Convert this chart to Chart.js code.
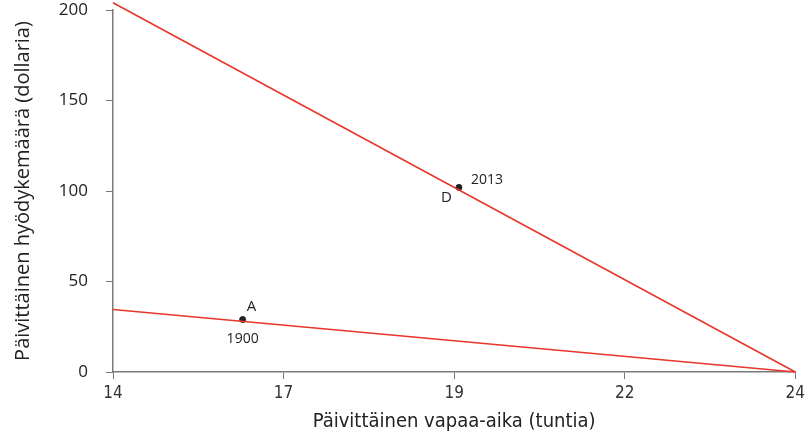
<!DOCTYPE html>
<html>
<head>
<meta charset="utf-8">
<script src="https://cdn.jsdelivr.net/npm/chart.js@4"></script>
<style>
  html, body { margin: 0; padding: 0; background: #fff; }
  #wrap { width: 809px; height: 437px; }
</style>
</head>
<body>
<div id="wrap"><canvas id="budgetChart"></canvas></div>
<script>
// budget lines: consumption vs free time
const xEnds = [14, 24];
const line1900 = [34.5, 0];
const line2013 = [204, 0];

// chosen points
const pointNames = ['A', 'D'];
const pointYears = ['1900', '2013'];
const pointX = [15.9, 19.07];
const pointY = [29, 102];

// axis ticks (the x ticks are labelled with rounded values)
const xTickValues = [14, 16.5, 19, 21.5, 24];
const xTickLabels = ['14', '17', '19', '22', '24'];
const yTickValues = [0, 50, 100, 150, 200];

const red = '#e8352a';
const axisGrey = '#7a7a7a';

function toXY(xs, ys) {
  return xs.map((x, i) => ({ x: x, y: ys[i] }));
}

// writes the A / 1900 and D / 2013 labels next to the points
const pointLabels = {
  id: 'pointLabels',
  afterDatasetsDraw(chart) {
    const ctx = chart.ctx;
    const xs = chart.scales.x, ys = chart.scales.y;
    ctx.save();
    ctx.fillStyle = '#222';
    ctx.textBaseline = 'middle';
    pointX.forEach((v, i) => {
      const px = xs.getPixelForValue(v);
      const py = ys.getPixelForValue(pointY[i]);
      if (pointNames[i] == 'A') {
        ctx.font = '15px "Open Sans"';
        ctx.textAlign = 'left';
        ctx.fillText(pointNames[i], px + 4, py - 13);
        ctx.font = '14px "Open Sans"';
        ctx.textAlign = 'center';
        ctx.fillText(pointYears[i], px, py + 20);
      } else {
        ctx.font = '15px "Open Sans"';
        ctx.textAlign = 'right';
        ctx.fillText(pointNames[i], px - 7, py + 10);
        ctx.font = '14px "Open Sans"';
        ctx.textAlign = 'left';
        ctx.fillText(pointYears[i], px + 12, py - 7);
      }
    });
    ctx.restore();
  }
};

const chart = new Chart(document.getElementById('budgetChart').getContext('2d'), {
  type: 'scatter',
  data: {
    datasets: [
      {
        label: '1900',
        data: toXY(xEnds, line1900),
        showLine: true,
        clip: false,
        borderColor: red,
        borderWidth: 1.5,
        pointRadius: 0
      },
      {
        label: '2013',
        data: toXY(xEnds, line2013),
        showLine: true,
        clip: false,
        borderColor: red,
        borderWidth: 1.5,
        pointRadius: 0
      },
      {
        label: 'points',
        data: toXY(pointX, pointY),
        showLine: false,
        backgroundColor: '#222',
        borderColor: '#222',
        pointRadius: 3
      }
    ]
  },
  options: {
    responsive: true,
    maintainAspectRatio: false,
    animation: false,
    layout: { padding: { top: 10, right: 12, left: 0, bottom: 0 } },
    plugins: {
      legend: { display: false },
      tooltip: { enabled: false }
    },
    scales: {
      x: {
        type: 'linear',
        min: 14,
        max: 24,
        afterBuildTicks: (scale) => {
          scale.ticks = xTickValues.map(v => ({ value: v }));
        },
        afterFit: (scale) => { scale.height = 65; },
        grid: { drawOnChartArea: false, drawTicks: true, tickLength: 7, color: axisGrey },
        border: { display: true, color: axisGrey, width: 1.5 },
        ticks: {
          padding: 4,
          color: '#333',
          font: { family: '"DejaVu Sans Condensed", sans-serif', size: 17 },
          callback: (v) => {
            const i = xTickValues.indexOf(v);
            return i >= 0 ? xTickLabels[i] : '';
          }
        },
        title: {
          display: true,
          text: 'Päivittäinen vapaa-aika (tuntia)',
          color: '#222',
          padding: { top: 0, bottom: 3 },
          font: { family: '"DejaVu Sans Condensed", sans-serif', size: 20 }
        }
      },
      y: {
        type: 'linear',
        min: 0,
        max: 200,
        afterBuildTicks: (scale) => {
          scale.ticks = yTickValues.map(v => ({ value: v }));
        },
        afterFit: (scale) => {
          scale.width = 113;
          scale.paddingTop = 0;
          scale.paddingBottom = 0;
        },
        grid: { drawOnChartArea: false, drawTicks: true, tickLength: 7, color: axisGrey },
        border: { display: true, color: axisGrey, width: 1.5 },
        ticks: {
          padding: 18,
          color: '#222',
          font: { family: '"Open Sans", sans-serif', size: 17 }
        },
        title: {
          display: true,
          text: 'Päivittäinen hyödykemäärä (dollaria)',
          color: '#222',
          padding: { top: 11, bottom: 0 },
          font: { family: '"Open Sans", sans-serif', size: 20 }
        }
      }
    }
  },
  plugins: [pointLabels]
});
</script>
</body>
</html>
